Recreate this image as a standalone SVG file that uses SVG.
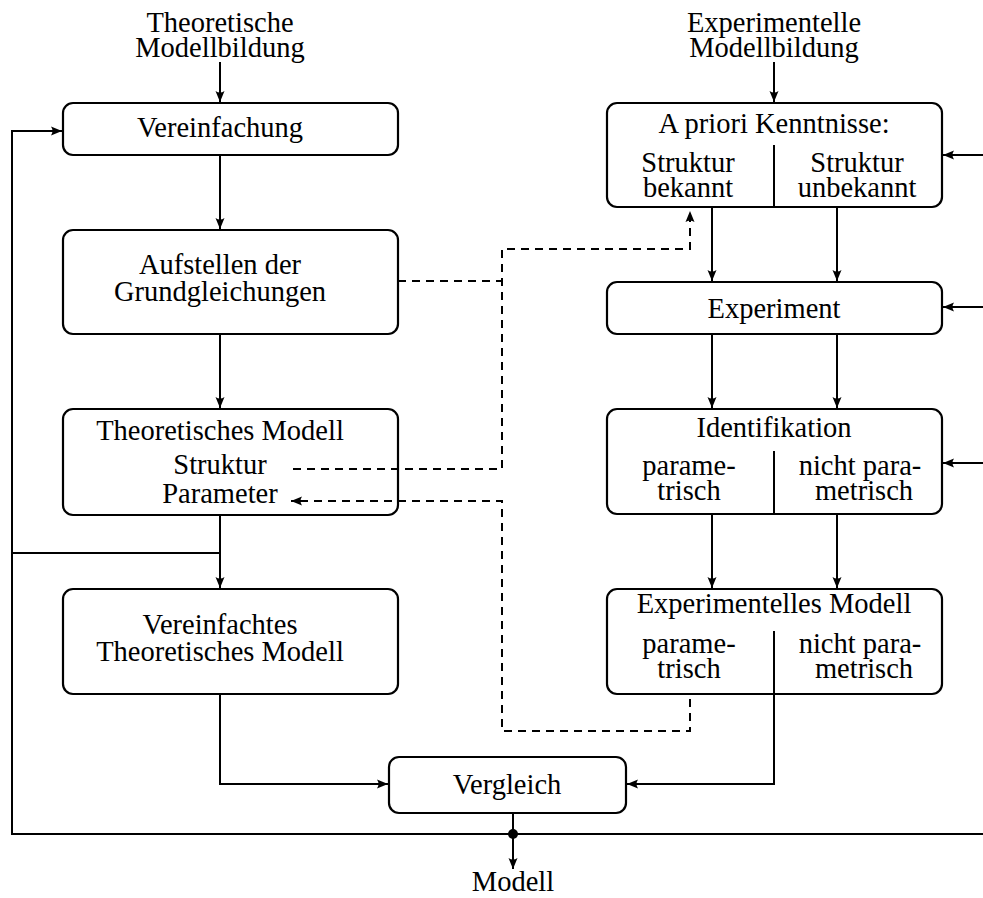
<svg xmlns="http://www.w3.org/2000/svg" width="983" height="898" viewBox="0 0 983 898">
<style>
text{font-family:"Liberation Serif","DejaVu Serif",serif;font-size:28.5px;fill:#000;text-anchor:middle}
.box{fill:#fff;stroke:#000;stroke-width:2.2}
.ln{fill:none;stroke:#000;stroke-width:2}
.dash{fill:none;stroke:#000;stroke-width:2;stroke-dasharray:8 6}
</style>
<defs>
<marker id="ah" markerUnits="userSpaceOnUse" markerWidth="14" markerHeight="12" refX="11" refY="6" orient="auto">
<path d="M0,1.5 L11,6 L0,10.5 Q3,6 0,1.5 Z" fill="#000"/>
</marker>
</defs>
<rect width="983" height="898" fill="#fff"/>

<g id="title-theo">
<text x="220" y="32">Theoretische</text>
<text x="220" y="57">Modellbildung</text>
</g>
<g id="title-exp">
<text x="774" y="32">Experimentelle</text>
<text x="774" y="57">Modellbildung</text>
</g>

<g id="vereinfachung">
<rect class="box" x="63" y="103" width="335" height="52" rx="10"/>
<text x="220" y="137">Vereinfachung</text>
</g>
<g id="aufstellen">
<rect class="box" x="63" y="230" width="335" height="104" rx="10"/>
<text x="220" y="274">Aufstellen der</text>
<text x="220" y="301">Grundgleichungen</text>
</g>
<g id="theor-modell">
<rect class="box" x="63" y="409" width="335" height="106" rx="10"/>
<text x="220" y="440">Theoretisches Modell</text>
<text x="220" y="474">Struktur</text>
<text x="220" y="503">Parameter</text>
</g>
<g id="vereinf-modell">
<rect class="box" x="63" y="589" width="335" height="105" rx="10"/>
<text x="220" y="634">Vereinfachtes</text>
<text x="220" y="661">Theoretisches Modell</text>
</g>

<g id="apriori">
<rect class="box" x="607" y="103" width="335" height="104" rx="10"/>
<path class="ln" d="M774,145 V207"/>
<text x="774" y="133">A priori Kenntnisse:</text>
<text x="688" y="172">Struktur</text>
<text x="688" y="197">bekannt</text>
<text x="857" y="172">Struktur</text>
<text x="857" y="197">unbekannt</text>
</g>
<g id="experiment">
<rect class="box" x="607" y="282" width="335" height="52" rx="10"/>
<text x="774" y="318">Experiment</text>
</g>
<g id="identifikation">
<rect class="box" x="607" y="409" width="335" height="105" rx="10"/>
<path class="ln" d="M774,451 V514"/>
<text x="774" y="437">Identifikation</text>
<text x="689" y="475">parame-</text>
<text x="689" y="500">trisch</text>
<text x="860" y="475">nicht para-</text>
<text x="864" y="500">metrisch</text>
</g>
<g id="exp-modell">
<rect class="box" x="607" y="589" width="335" height="105" rx="10"/>
<path class="ln" d="M774,631 V694"/>
<text x="774" y="613">Experimentelles Modell</text>
<text x="689" y="653">parame-</text>
<text x="689" y="678">trisch</text>
<text x="860" y="653">nicht para-</text>
<text x="864" y="678">metrisch</text>
</g>
<g id="vergleich">
<rect class="box" x="389" y="757" width="237" height="56" rx="10"/>
<text x="507" y="794">Vergleich</text>
</g>
<g id="modell">
<text x="513" y="891">Modell</text>
</g>

<g id="connectors">
<path class="ln" d="M220,62 V102" marker-end="url(#ah)"/>
<path class="ln" d="M774,62 V102" marker-end="url(#ah)"/>
<path class="ln" d="M220,155 V229" marker-end="url(#ah)"/>
<path class="ln" d="M220,334 V408" marker-end="url(#ah)"/>
<path class="ln" d="M220,515 V588" marker-end="url(#ah)"/>
<path class="ln" d="M220,553 H12"/>
<path class="ln" d="M983,834 H12 V131 H62" marker-end="url(#ah)"/>
<path class="ln" d="M990,155 H943" marker-end="url(#ah)"/>
<path class="ln" d="M990,307 H943" marker-end="url(#ah)"/>
<path class="ln" d="M990,463 H943" marker-end="url(#ah)"/>
<path class="ln" d="M712,207 V281" marker-end="url(#ah)"/>
<path class="ln" d="M837,207 V281" marker-end="url(#ah)"/>
<path class="ln" d="M712,334 V408" marker-end="url(#ah)"/>
<path class="ln" d="M837,334 V408" marker-end="url(#ah)"/>
<path class="ln" d="M712,514 V588" marker-end="url(#ah)"/>
<path class="ln" d="M837,514 V588" marker-end="url(#ah)"/>
<path class="ln" d="M220,694 V784 H388" marker-end="url(#ah)"/>
<path class="ln" d="M774,694 V784 H627" marker-end="url(#ah)"/>
<path class="ln" d="M513,813 V869" marker-end="url(#ah)"/>
<circle cx="513" cy="834" r="5" fill="#000"/>
<path class="dash" d="M398,281 H502"/>
<path class="dash" d="M293,469 H502 V249 H690 V211" marker-end="url(#ah)"/>
<path class="dash" d="M690,699 V731 H502 V501 H291" marker-end="url(#ah)"/>
</g>
</svg>
